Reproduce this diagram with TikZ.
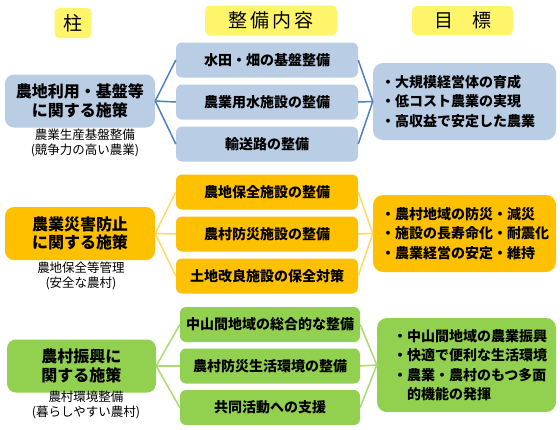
\documentclass[tikz,border=0pt]{standalone}
\usepackage{fontspec}
\setmainfont{Noto Sans CJK JP}
\definecolor{hdr}{HTML}{FFF56A}
\definecolor{bluef}{HTML}{B9CDE5}
\definecolor{bluel}{HTML}{4F81BD}
\definecolor{orf}{HTML}{FFC000}
\definecolor{orl}{HTML}{FFD966}
\definecolor{grf}{HTML}{92D050}
\definecolor{grl}{HTML}{A9DB72}
\begin{document}
\begin{tikzpicture}[x=1pt,y=-1pt,
  hdrbox/.style={fill=hdr,rounded corners=5pt,inner sep=0pt,font=\fontsize{19}{22}\selectfont},
  leftbox/.style={rounded corners=9pt,minimum width=150pt,minimum height=53pt,inner sep=0pt,align=center,font=\fontsize{16}{18.5}\selectfont\bfseries},
  midbox/.style={rounded corners=6pt,minimum width=182pt,minimum height=35pt,inner sep=0pt,font=\fontsize{14}{16}\selectfont\bfseries},
  rightbox/.style={rounded corners=10pt,minimum width=183pt,minimum height=77pt,inner sep=0pt,align=left,font=\fontsize{14}{19.5}\selectfont\bfseries},
  subtxt/.style={align=center,inner sep=0pt,font=\fontsize{12.5}{15}\selectfont},
  conn/.style={line width=1.5pt}]
\useasboundingbox (0,0) rectangle (560,429);
\fill[white] (0,0) rectangle (560,429);
% headers
\node[hdrbox,minimum width=37pt,minimum height=30pt] (h1) at (73,23) {柱};
\node[hdrbox,minimum width=132pt,minimum height=30pt] (h2) at (271,20.5) {整\kern3pt 備\kern3pt 内\kern3pt 容};
\node[hdrbox,minimum width=101pt,minimum height=29pt] (h3) at (462.5,20.5) {目　標};
% row 1
\node[leftbox,fill=bluef] (l1) at (80,101) {農地利用・基盤等\\に関する施策};
\node[subtxt] (s1) at (85,142.5) {農業生産基盤整備\\(競争力の高い農業)};
\node[midbox,fill=bluef] (m1a) at (267,60) {水田・畑の基盤整備};
\node[midbox,fill=bluef] (m1b) at (267,102) {農業用水施設の整備};
\node[midbox,fill=bluef] (m1c) at (267,144) {輸送路の整備};
\node[rightbox,fill=bluef] (r1) at (464.5,101.5) {\hspace*{7pt}・大規模経営体の育成\\\hspace*{7pt}・低コスト農業の実現\\\hspace*{7pt}・高収益で安定した農業\hspace*{20pt}};
\foreach \m in {m1a,m1b,m1c}{
  \draw[conn,bluel] (l1.east) -- (\m.west);
  \draw[conn,bluel] (\m.east) -- (r1.west);
}
% row 2
\node[leftbox,fill=orf] (l2) at (80,233.5) {農業災害防止\\に関する施策};
\node[subtxt] (s2) at (81,275.5) {農地保全等管理\\(安全な農村)};
\node[midbox,fill=orf] (m2a) at (267,192) {農地保全施設の整備};
\node[midbox,fill=orf] (m2b) at (267,234) {農村防災施設の整備};
\node[midbox,fill=orf] (m2c) at (267,276) {土地改良施設の保全対策};
\node[rightbox,fill=orf] (r2) at (464.5,233.5) {\hspace*{7pt}・農村地域の防災・減災\\\hspace*{7pt}・施設の長寿命化・耐震化\\\hspace*{7pt}・農業経営の安定・維持\hspace*{20pt}};
\foreach \m in {m2a,m2b,m2c}{
  \draw[conn,orl] (l2.east) -- (\m.west);
  \draw[conn,orl] (\m.east) -- (r2.west);
}
% row 3
\node[leftbox,fill=grf,minimum width=149pt] (l3) at (81.5,366) {農村振興に\\関する施策};
\node[subtxt] (s3) at (86,404.5) {農村環境整備\\(暮らしやすい農村)};
\node[midbox,fill=grf,minimum width=180pt] (m3a) at (270,324.5) {中山間地域の総合的な整備};
\node[midbox,fill=grf,minimum width=180pt] (m3b) at (270,366) {農村防災生活環境の整備};
\node[midbox,fill=grf,minimum width=180pt] (m3c) at (270,407.5) {共同活動への支援};
\node[rightbox,fill=grf,minimum width=179pt,minimum height=94pt] (r3) at (466.5,365) {\hspace*{7pt}・中山間地域の農業振興\\\hspace*{7pt}・快適で便利な生活環境\\\hspace*{7pt}・農業・農村のもつ多面\\\hspace*{7pt}\phantom{・}的機能の発揮};
\foreach \m in {m3a,m3b,m3c}{
  \draw[conn,grl] (l3.east) -- (\m.west);
  \draw[conn,grl] (\m.east) -- (r3.west);
}
\end{tikzpicture}
\end{document}
